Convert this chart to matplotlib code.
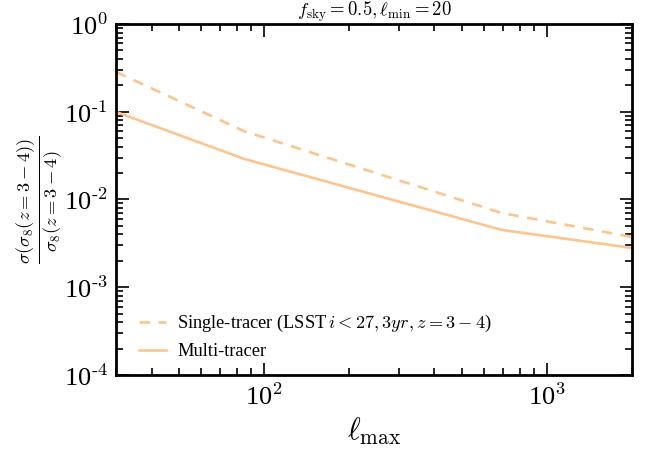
import numpy as np
import matplotlib
matplotlib.use("Agg")
import matplotlib.pyplot as plt
from matplotlib.ticker import FuncFormatter, LogLocator

plt.rcParams['font.family'] = 'Liberation Serif'
plt.rcParams['mathtext.fontset'] = 'cm'

# ell_max values and forecast errors
ell_max = [30, 85, 693, 2000]
single_tracer = [0.284, 0.060, 0.0070, 0.00374]
multi_tracer = [0.0993, 0.029, 0.00449, 0.0028]

color = '#fdc58e'

fig = plt.figure(figsize=(6.53, 4.49), dpi=100)
ax = fig.add_axes([0.178, 0.165, 0.79, 0.7815])

ax.plot(ell_max, single_tracer, '--', color=color, lw=1.9, dashes=(4, 3.2),
        label=r'Single-tracer (LSST$\,i<27, 3yr, z=3-4$)')
ax.plot(ell_max, multi_tracer, '-', color=color, lw=1.9, label='Multi-tracer')

ax.set_xscale('log')
ax.set_yscale('log')
ax.set_xlim(30, 2000)
ax.set_ylim(1e-4, 1)

def pow_fmt(v, pos):
    e = int(round(np.log10(v)))
    return '10$^{\\text{%d}}$' % e

ax.xaxis.set_major_locator(LogLocator(base=10))
ax.yaxis.set_major_locator(LogLocator(base=10))
ax.xaxis.set_major_formatter(FuncFormatter(pow_fmt))
ax.yaxis.set_major_formatter(FuncFormatter(pow_fmt))
ax.tick_params(which='both', direction='in', top=True, right=True, width=1.2)
ax.tick_params(which='major', length=9, labelsize=19, pad=6)
ax.tick_params(which='minor', length=5)
for s in ax.spines.values():
    s.set_linewidth(2)

ax.set_xlabel(r'$\ell_{\rm max}$', fontsize=22)
ax.set_ylabel(r'$\frac{\sigma(\sigma_8(z=3-4))}{\sigma_8(z=3-4)}$', fontsize=19, labelpad=0)
ax.set_title(r'$f_{\rm sky}=0.5, \ell_{\rm min}=20$', fontsize=13.5, pad=4)

ax.legend(loc='lower left', frameon=False, fontsize=13.2, handlelength=1.5,
          handletextpad=0.6, bbox_to_anchor=(0.012, -0.005))

fig.savefig('out.png', dpi=100)
